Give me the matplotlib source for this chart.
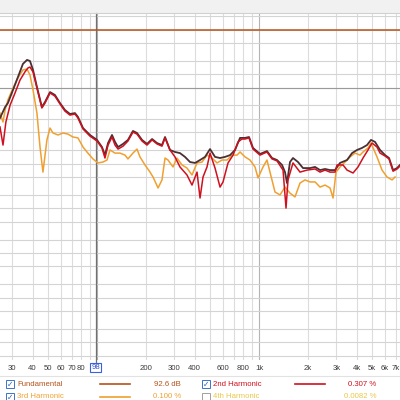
import numpy as np
import matplotlib
matplotlib.use("Agg")
import matplotlib.pyplot as plt
from matplotlib.lines import Line2D
from matplotlib.patches import Rectangle

# ---------------- data (levels in dB relative to the fundamental) ----------------
thd_freq = [25.2, 27.1, 28.2, 30.3, 32.5, 34.9, 37.0, 38.6, 40.3, 42.6, 45.7, 47.8, 51.3, 55.0,
            59.1, 63.4, 68.1, 73.1, 76.3, 82.0, 90.5, 100, 107.4, 112.0, 117.0, 123.8, 129.2,
            134.9, 144.7, 155.3, 166.7, 176.6, 189.6, 203.6, 218.8, 234.7, 251.9, 263.0, 282.2,
            303.0, 325.3, 349.3, 375.2, 402.8, 432.5, 464.3, 498.5, 535.3, 574.8, 617.0, 662.6,
            711.3, 763.7, 819.9, 867.6, 918.4, 1014, 1120, 1203, 1292, 1387, 1447, 1489, 1553,
            1621, 1741, 1869, 2065, 2218, 2381, 2556, 2744, 2946, 3162, 3494, 3752, 4028, 4323,
            4641, 4911, 5200, 5585, 5998, 6347, 6720, 7111, 7417]
thd_db = [-39.6, -34.7, -32.9, -27.1, -21.3, -15.4, -13.6, -14.1, -18.1, -25.7, -34.7, -32.4,
          -28.0, -29.3, -32.9, -36.0, -37.8, -37.4, -39.1, -44.1, -47.2, -49.4, -52.6, -56.2,
          -50.8, -47.2, -50.3, -52.6, -51.2, -49.4, -45.4, -46.3, -49.4, -51.2, -49.0, -50.8,
          -51.7, -48.1, -53.9, -54.8, -55.3, -57.0, -59.3, -59.7, -58.4, -57.0, -53.5, -57.0,
          -57.5, -57.0, -56.2, -53.9, -48.5, -48.5, -48.1, -53.0, -55.7, -54.4, -57.5, -58.4,
          -60.6, -63.8, -68.7, -59.3, -57.5, -59.3, -62.0, -62.0, -61.5, -62.9, -62.4, -62.9,
          -62.9, -59.7, -58.4, -55.3, -53.9, -53.0, -51.7, -49.4, -50.3, -53.9, -56.2, -57.5,
          -62.9, -62.0, -60.6]

h2_freq = [25.2, 26.3, 27.4, 29.1, 31.2, 33.5, 35.9, 37.5, 38.6, 40.3, 42.6, 45.7, 47.8, 51.3,
           55.0, 59.1, 63.4, 68.1, 73.1, 76.3, 82.0, 90.5, 100, 107.4, 112.0, 117.0, 123.8,
           129.2, 134.9, 144.7, 155.3, 166.7, 176.6, 189.6, 203.6, 218.8, 234.7, 251.9, 263.0,
           282.2, 303.0, 325.3, 359.4, 385.9, 414.4, 432.5, 451.3, 477.6, 498.5, 535.3, 574.8,
           599.7, 643.8, 691.3, 742.2, 785, 819.9, 867.6, 918.4, 1014, 1120, 1203, 1292, 1407,
           1468, 1510, 1621, 1791, 1979, 2218, 2381, 2556, 2744, 2946, 3030, 3300, 3494, 3806,
           4085, 4385, 4707, 4985, 5350, 5585, 5998, 6347, 6720, 7111, 7417]
h2_db = [-43.6, -51.7, -41.4, -33.8, -28.4, -22.6, -19.0, -17.2, -16.8, -19.0, -26.2, -35.1,
         -32.9, -28.4, -29.8, -33.3, -36.5, -38.3, -37.8, -39.6, -44.5, -47.7, -49.9, -53.0,
         -57.5, -51.7, -48.1, -51.7, -53.5, -52.2, -49.9, -45.9, -46.8, -49.9, -51.7, -49.4,
         -51.2, -52.2, -48.5, -53.9, -57.0, -61.5, -65.1, -69.6, -63.8, -75.4, -66.0, -61.5,
         -55.3, -62.0, -70.5, -68.2, -59.7, -56.2, -50.3, -49.0, -49.0, -48.5, -53.5, -56.2,
         -54.8, -57.9, -58.8, -62.9, -79.9, -67.3, -59.7, -63.8, -62.9, -62.4, -63.8, -62.9,
         -63.8, -63.8, -60.6, -60.6, -62.9, -64.2, -61.5, -57.5, -53.9, -50.8, -52.6, -55.3,
         -56.6, -57.9, -63.4, -62.4, -61.1]

h3_freq = [25.2, 26.3, 27.1, 28.2, 30.3, 32.5, 34.9, 37.0, 38.6, 40.3, 42.6, 44.5, 46.4, 49.1,
           51.3, 53.5, 57.5, 61.7, 66.2, 71.1, 76.3, 82.0, 87.9, 94.4, 101.4, 108.9, 115.3,
           120.3, 129.2, 138.7, 148.9, 155.3, 166.7, 176.6, 184.2, 197.8, 212.5, 221.8, 238.2,
           251.9, 263.0, 274.4, 294.6, 311.6, 334.6, 359.4, 385.9, 414.4, 444.9, 477.6, 512.9,
           550.7, 591.3, 634.7, 681.6, 731.8, 763.7, 819.9, 880.0, 944.7, 986.2, 1059, 1120,
           1169, 1255, 1348, 1447, 1553, 1668, 1791, 1923, 2065, 2218, 2381, 2556, 2744, 2864,
           2988, 3162, 3396, 3647, 3915, 4202, 4385, 4707, 4911, 5350, 5745, 6170, 6626, 6912]
h3_db = [-37.4, -41.4, -36.0, -31.5, -26.2, -21.7, -18.1, -17.7, -20.4, -27.1, -37.4, -52.6,
         -63.8, -49.4, -44.1, -46.3, -47.2, -46.3, -46.8, -48.1, -48.5, -52.6, -55.3, -57.9,
         -59.7, -59.3, -58.4, -53.9, -55.3, -55.3, -56.2, -57.9, -55.3, -53.5, -57.0, -60.6,
         -63.8, -66.0, -70.9, -67.3, -57.5, -58.4, -61.5, -57.5, -60.6, -62.0, -65.1, -59.7,
         -59.3, -56.2, -57.5, -59.7, -58.4, -58.4, -56.2, -56.2, -54.8, -57.0, -58.4, -61.5,
         -66.4, -61.5, -58.4, -63.8, -72.7, -74.0, -70.5, -73.2, -74.9, -68.7, -67.3, -68.2,
         -68.2, -70.5, -69.6, -70.9, -75.4, -63.8, -61.5, -59.3, -57.0, -55.3, -56.2, -54.8,
         -53.0, -50.8, -57.0, -62.9, -66.0, -67.3, -66.0]

fundamental_pct = 100.0
cursor_freq = 98
tick_freqs = [30, 40, 50, 60, 70, 80, 200, 300, 400, 600, 800, 1000, 2000, 3000, 4000, 5000, 6000, 7000]
tick_labels = ["30", "40", "50", "60", "70", "80", "200", "300", "400", "600", "800", "1k",
               "2k", "3k", "4k", "5k", "6k", "7k"]
grid_freqs = [30, 40, 50, 60, 70, 80, 90, 200, 300, 400, 500, 600, 700, 800, 900,
              2000, 3000, 4000, 5000, 6000, 7000]
major_grid_freqs = [100, 1000]

legend_names = ["Fundamental", "2nd Harmonic", "3rd Harmonic", "4th Harmonic"]
legend_values = ["92.6 dB", "0.307 %", "0.100 %", "0.0082 %"]
legend_checked = [True, True, True, False]

# ---------------- styling ----------------
C_FUND = "#b5531b"
C_H2 = "#d0101e"
C_H3 = "#f0a030"
C_H4 = "#e8c848"
C_THD = "#4a2f33"
plt.rcParams["font.family"] = ["Liberation Sans", "DejaVu Sans"]


def to_pct(db):
    return 100.0 * 10 ** (np.asarray(db) / 20.0)


fig = plt.figure(figsize=(4, 4), dpi=100)
fig.patch.set_facecolor("white")
# top gray band
fig.add_artist(Rectangle((0, 1 - 13 / 400), 1, 13 / 400, transform=fig.transFigure,
                         facecolor="#f1f1f1", edgecolor="none", zorder=0))

ax = fig.add_axes([0, 1 - 360 / 400, 1, (360 - 13) / 400])
ax.set_xscale("log")
ax.set_yscale("log")
ax.set_xlim(25.2, 7417)
ax.set_ylim(4.04e-6, 234)

# grid
for f in grid_freqs:
    ax.axvline(f, color="#dcdcdc", lw=0.8, zorder=1)
for f in major_grid_freqs:
    ax.axvline(f, color="#b4b4b4", lw=0.8, zorder=1)
for dec in range(-6, 3):
    for m in (1, 2, 5):
        v = m * 10.0 ** dec
        if 4.04e-6 < v < 234:
            ax.axhline(v, color="#d4d4d4", lw=0.8, zorder=1)
ax.axhline(5, color="#9a9a9a", lw=0.8, zorder=1)

# cursor
ax.axvline(cursor_freq, color="#707070", lw=0.9, zorder=2, clip_on=False, ymin=-0.03, ymax=1)

# curves
ax.axhline(fundamental_pct, color=C_FUND, lw=1.1, zorder=3)
ax.plot(h3_freq, to_pct(h3_db), color=C_H3, lw=1.1, zorder=4)
ax.plot(thd_freq, to_pct(thd_db), color=C_THD, lw=1.3, zorder=5)
ax.plot(h2_freq, to_pct(h2_db), color=C_H2, lw=1.1, zorder=6)

for s in ax.spines.values():
    s.set_visible(False)
ax.spines["top"].set_visible(True)
ax.spines["top"].set_color("#d0d0d0")
ax.spines["top"].set_linewidth(0.8)

ax.set_xticks(tick_freqs)
ax.set_xticklabels(tick_labels)
ax.xaxis.set_minor_locator(matplotlib.ticker.NullLocator())
ax.yaxis.set_major_locator(matplotlib.ticker.NullLocator())
ax.yaxis.set_minor_locator(matplotlib.ticker.NullLocator())
ax.tick_params(axis="x", length=0, labelsize=5.6, colors="#3c3c3c", pad=3.5)

# cursor frequency box
ax.text(cursor_freq, -0.022, str(cursor_freq), transform=ax.get_xaxis_transform(),
        ha="center", va="center", fontsize=5.6, color="#2a4fd0", zorder=10,
        bbox=dict(boxstyle="square,pad=0.15", facecolor="white", edgecolor="#3a5fe0", lw=0.8),
        clip_on=False)

# legend area
fig.add_artist(Line2D([0, 1], [1 - 376 / 400] * 2, transform=fig.transFigure,
                      color="#e2e2e2", lw=0.8))
text_colors = [C_FUND, C_H2, C_H3, C_H4]
line_colors = [C_FUND, C_H2, C_H3, None]
cols = [(10, 17, 100, 130, 181), (206, 213, 295, 325, 376)]
rows = [384, 397]
for i, name in enumerate(legend_names):
    cx, tx, l0, l1, vx = cols[i % 2]
    yy = 1 - rows[i // 2] / 400
    fig.add_artist(Rectangle(((cx - 4) / 400, yy - 4 / 400), 8 / 400, 8 / 400,
                             transform=fig.transFigure, facecolor="white",
                             edgecolor="#3b74c8" if legend_checked[i] else "#a0a0a0", lw=0.7))
    if legend_checked[i]:
        fig.text(cx / 400, yy, "\u2713", ha="center", va="center", fontsize=5.5,
                 color="#2a5fb8", family="DejaVu Sans", fontweight="bold")
    fig.text(tx / 400, yy, name, ha="left", va="center", fontsize=5.6, color=text_colors[i])
    if line_colors[i]:
        fig.add_artist(Line2D([l0 / 400, l1 / 400], [yy, yy], transform=fig.transFigure,
                              color=line_colors[i], lw=1.2))
    fig.text(vx / 400, yy, legend_values[i], ha="right", va="center", fontsize=5.6,
             color=text_colors[i])

fig.savefig("out.png", dpi=100)
